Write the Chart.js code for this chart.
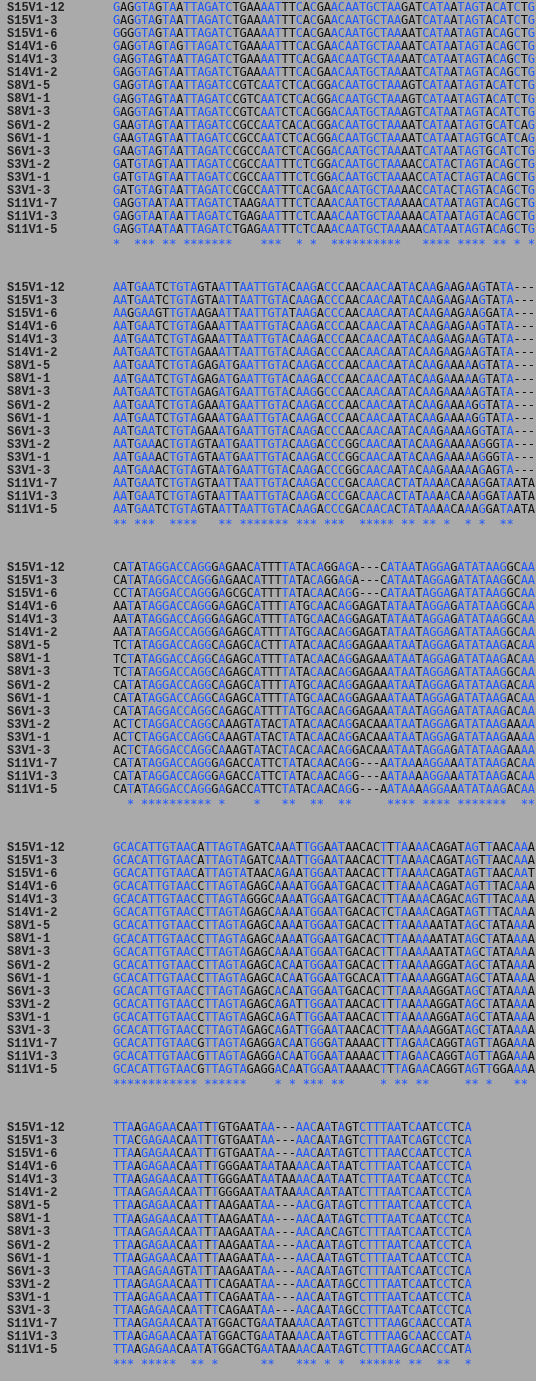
<!DOCTYPE html>
<html><head><meta charset="utf-8">
<script src="https://cdn.jsdelivr.net/npm/chart.js@4"></script>
<style>html,body{margin:0;padding:0;background:#aaaaaa;}#w{width:536px;height:1381px;}</style>
</head><body><div id="w"><canvas id="c"></canvas></div>
<script>
const names = ["S15V1-12","S15V1-3","S15V1-6","S14V1-6","S14V1-3","S14V1-2","S8V1-5","S8V1-1","S8V1-3","S6V1-2","S6V1-1","S6V1-3","S3V1-2","S3V1-1","S3V1-3","S11V1-7","S11V1-3","S11V1-5"];
const block1 = [
"GAGGTAGTAATTAGATCTGAAAATTTCACGAACAATGCTAAGATCATAATAGTACATCTG",
"GAGGTAGTAATTAGATCTGAAAATTTCACGAACAATGCTAAGATCATAATAGTACATCTG",
"GGGGTAGTAATTAGATCTGAAAATTTCACGAACAATGCTAAAATCATAATAGTACAGCTG",
"GAGGTAGTAGTTAGATCTGAAAATTTCACGAACAATGCTAAAATCATAATAGTACAGCTG",
"GAGGTAGTAATTAGATCTGAAAATTTCACGAACAATGCTAAAATCATAATAGTACAGCTG",
"GAGGTAGTAATTAGATCTGAAAATTTCACGAACAATGCTAAAATCATAATAGTACAGCTG",
"GAGGTAGTAATTAGATCCGTCAATCTCACGGACAATGCTAAAGTCATAATAGTACATCTG",
"GAGGTAGTAATTAGATCCGTCAATCTCACGGACAATGCTAAAGTCATAATAGTACATCTG",
"GAGGTAGTAATTAGATCCGTCAATCTCACGGACAATGCTAAAGTCATAATAGTACATCTG",
"GAAGTAGTAATTAGATCCGCCAATCACACGGACAATGCTAAAATCATAATAGTGCATCAG",
"GAAGTAGTAATTAGATCCGCCAATCTCACGGACAATGCTAAAATCATAATAGTGCATCAG",
"GAAGTAGTAATTAGATCCGCCAATCTCACGGACAATGCTAAAATCATAATAGTGCATCTG",
"GATGTAGTAATTAGATCCGCCAATTTCTCGGACAATGCTAAAACCATACTAGTACAGCTG",
"GATGTAGTAATTAGATCCGCCAATTTCTCGGACAATGCTAAAACCATACTAGTACAGCTG",
"GATGTAGTAATTAGATCCGCCAATTTCACGAACAATGCTAAAACCATACTAGTACAGCTG",
"GAGGTAATAATTAGATCTAAGAATTTCTCAAACAATGCTAAAAACATAATAGTACAGCTG",
"GAGGTAATAATTAGATCTGAGAATTTCTCAAACAATGCTAAAAACATAATAGTACAGCTG",
"GAGGTAATAATTAGATCTGAGAATTTCTCAAACAATGCTAAAAACATAATAGTACAGCTG"];
const block2 = [
"AATGAATCTGTAGTAATTAATTGTACAAGACCCAACAACAATACAAGAAGAAGTATA---",
"AATGAATCTGTAGTAATTAATTGTACAAGACCCAACAACAATACAAGAAGAAGTATA---",
"AAGGAAGTTGTAAGAATTAATTGTATAAGACCCAACAACAATACAAGAAGAAGGATA---",
"AATGAATCTGTAGAAATTAATTGTACAAGACCCAACAACAATACAAGAAGAAGTATA---",
"AATGAATCTGTAGAAATTAATTGTACAAGACCCAACAACAATACAAGAAGAAGTATA---",
"AATGAATCTGTAGAAATTAATTGTACAAGACCCAACAACAATACAAGAAGAAGTATA---",
"AATGAATCTGTAGAGATGAATTGTACAAGACCCAACAACAATACAAGAAAAAGTATA---",
"AATGAATCTGTAGAGATGAATTGTACAAGACCCAACAACAATACAAGAAAAAGTATA---",
"AATGAATCTGTAGAGATGAATTGTACAAGGCCCAACAACAATACAAGAAAAAGTATA---",
"AATGAATCTGTAGAAATGAATTGTACAAGACCCAACAACAATACAAGAAAAGGTATA---",
"AATGAATCTGTAGAAATGAATTGTACAAGACCCAACAACAATACAAGAAAAGGTATA---",
"AATGAATCTGTAGAAATGAATTGTACAAGACCCAACAACAATACAAGAAAAGGTATA---",
"AATGAAACTGTAGTAATGAATTGTACAAGACCCGGCAACAATACAAGAAAAAGGGTA---",
"AATGAAACTGTAGTAATGAATTGTACAAGACCCGGCAACAATACAAGAAAAAGGGTA---",
"AATGAAACTGTAGTAATGAATTGTACAAGACCCGGCAACAATACAAGAAAAAGAGTA---",
"AATGAATCTGTAGTAATTAATTGTACAAGACCCGACAACACTATAAAACAAAGGATAATA",
"AATGAATCTGTAGTAATTAATTGTACAAGACCCGACAACACTATAAAACAAAGGATAATA",
"AATGAATCTGTAGTAATTAATTGTACAAGACCCGACAACACTATAAAACAAAGGATAATA"];
const block3 = [
"CATATAGGACCAGGGAGAACATTTTATACAGGAGA---CATAATAGGAGATATAAGGCAA",
"CATATAGGACCAGGGAGAACATTTTATACAGGAGA---CATAATAGGAGATATAAGGCAA",
"CCTATAGGACCAGGGAGCGCATTTTATACAACAGG---CATAATAGGAGATATAAGGCAA",
"AATATAGGACCAGGGAGAGCATTTTATGCAACAGGAGATATAATAGGAGATATAAGGCAA",
"AATATAGGACCAGGGAGAGCATTTTATGCAACAGGAGATATAATAGGAGATATAAGGCAA",
"AATATAGGACCAGGGAGAGCATTTTATGCAACAGGAGATATAATAGGAGATATAAGGCAA",
"TCTATAGGACCAGGCAGAGCACTTTATACAACAGGAGAAATAATAGGAGATATAAGACAA",
"TCTATAGGACCAGGCAGAGCATTTTATACAACAGGAGAAATAATAGGAGATATAAGACAA",
"TCTATAGGACCAGGCAGAGCATTTTATACAACAGGAGAAATAATAGGAGATATAAGGCAA",
"CATATAGGACCAGGCAGAGCATTTTATGCAACAGGAGAAATAATAGGAGATATAAGACAA",
"CATATAGGACCAGGCAGAGCATTTTATGCAACAGGAGAAATAATAGGAGATATAAGACAA",
"CATATAGGACCAGGCAGAGCATTTTATGCAACAGGAGAAATAATAGGAGATATAAGACAA",
"ACTCTAGGACCAGGCAAAGTATACTATACAACAGGACAAATAATAGGAGATATAAGAAAA",
"ACTCTAGGACCAGGCAAAGTATACTATACAACAGGACAAATAATAGGAGATATAAGAAAA",
"ACTCTAGGACCAGGCAAAGTATACTACACAACAGGACAAATAATAGGAGATATAAGAAAA",
"CATATAGGACCAGGGAGACCATTCTATACAACAGG---AATAAAAGGAAATATAAGACAA",
"CATATAGGACCAGGGAGACCATTCTATACAACAGG---AATAAAAGGAAATATAAGACAA",
"CATATAGGACCAGGGAGACCATTCTATACAACAGG---AATAAAAGGAAATATAAGACAA"];
const block4 = [
"GCACATTGTAACATTAGTAGATCAAATTGGAATAACACTTTAAAACAGATAGTTAACAAA",
"GCACATTGTAACATTAGTAGATCAAATTGGAATAACACTTTAAAACAGATAGTTAACAAA",
"GCACATTGTAACATTAGTATAACAGAATGGAATAACACTTTAAAACAGATAGTTAACAAT",
"GCACATTGTAACCTTAGTAGAGCAAAATGGAATGACACTTTAAAACAGATAGTTTACAAA",
"GCACATTGTAACCTTAGTAGGGCAAAATGGAATGACACTTTAAAACAGACAGTTTACAAA",
"GCACATTGTAACCTTAGTAGAGCAAAATGGAATGACACTCTAAAACAGATAGTTTACAAA",
"GCACATTGTAACCTTAGTAGAGCAAAATGGAATGACACTTTAAAAAATATAGCTATAAAA",
"GCACATTGTAACCTTAGTAGAGCAAAATGGAATGACACTTTAAAAAATATAGCTATAAAA",
"GCACATTGTAACCTTAGTAGAGCAAAATGGAATGACACTTTAAAAAATATAGCTATAAAA",
"GCACATTGTAACCTTAGTAGAGCACAATGGAATGACACTTTAAAAAGGATAGCTATAAAA",
"GCACATTGTAACCTTAGTAGAGCACAATGGAATGCACATTTAAAAAGGATAGCTATAAAA",
"GCACATTGTAACCTTAGTAGAGCACAATGGAATGACACTTTAAAAAGGATAGCTATAAAA",
"GCACATTGTAACCTTAGTAGAGCAGATTGGAATAACACTTTAAAAAGGATAGCTATAAAA",
"GCACATTGTAACCTTAGTAGAGCAGATTGGAATAACACTTTAAAAAGGATAGCTATAAAA",
"GCACATTGTAACCTTAGTAGAGCAGATTGGAATAACACTTTAAAAAGGATAGCTATAAAA",
"GCACATTGTAACGTTAGTAGAGGACAATGGGATAAAACTTTAGAACAGGTAGTTAGAAAA",
"GCACATTGTAACGTTAGTAGAGGACAATGGAATAAAACTTTAGAACAGGTAGTTAGAAAA",
"GCACATTGTAACGTTAGTAGAGGACAATGGAATAAAACTTTAGAACAGGTAGTTGGAAAA"];
const block5 = [
"TTAAGAGAACAATTTGTGAATAA---AACAATAGTCTTTAATCAATCCTCA",
"TTACGAGAACAATTTGTGAATAA---AACAATAGTCTTTAATCAGTCCTCA",
"TTAAGAGAACAATTTGTGAATAA---AACAATAGTCTTTAACCAATCCTCA",
"TTAAGAGAACAATTTGGGAATAATAAAACAATAATCTTTAATCAATCCTCA",
"TTAAGAGAACAATTTGGGAATAATAAAACAATAATCTTTAATCAATCCTCA",
"TTAAGAGAACAATTTGGGAATAATAAAACAATAATCTTTAATCAATCCTCA",
"TTAAGAGAACAATTTAAGAATAA---AACGATAGTCTTTAATCAATCCTCA",
"TTAAGAGAACAATTTAAGAATAA---AACAATAGTCTTTAATCAATCCTCA",
"TTAAGAGAACAATTTAAGAATAA---AACAACAGTCTTTAATCAATCCTCA",
"TTAAGAGAACAATTTAAGAATAA---AACAATAGTCTTTAATCAATCCTCA",
"TTAAGAGAACAATTTAAGAATAA---AACAATAGTCTTTAATCAATCCTCA",
"TTAAGAGAAGTATTTAAGAATAA---AACAATAGTCTTTAATCAATCCTCA",
"TTAAGAGAACAATTTCAGAATAA---AACAATAGCCTTTAATCAATCCTCA",
"TTAAGAGAACAATTTCAGAATAA---AACAATAGTCTTTAATCAATCCTCA",
"TTAAGAGAACAATTTCAGAATAA---AACAATAGCCTTTAATCAATCCTCA",
"TTAAGAGAACAATATGGACTGAATAAAACAATAGTCTTTAAGCAACCCATA",
"TTAAGAGAACAATATGGACTGAATAAAACAATAGTCTTTAAGCAACCCATA",
"TTAAGAGAACAATATGGACTGAATAAAACAATAGTCTTTAAGCAACCCATA"];
const blocks = [block1, block2, block3, block4, block5];

function consensus(b){
  let s = "";
  for (let c = 0; c < b[0].length; c++) {
    const ch = b[0][c];
    s += (ch !== "-" && b.every(r => r[c] === ch)) ? "*" : " ";
  }
  return s;
}

const BLUE = "#1f57ff", BLACK = "#0d0d0d";
const alignPlugin = {
  id: "align",
  afterDatasetsDraw(chart) {
    const ctx = chart.ctx, xs = chart.scales.x, ys = chart.scales.y;
    ctx.save();
    ctx.textBaseline = "middle";
    blocks.forEach((b, bi) => {
      const cons = consensus(b);
      const rows = b.length;
      for (let r = 0; r <= rows; r++) {
        const yv = 8 + bi * 280 + r * 13.06;
        const py = ys.getPixelForValue(yv);
        if (r < rows) {
          ctx.font = "bold 12px 'Liberation Mono', monospace";
          ctx.fillStyle = "#222222"; ctx.textAlign = "left";
          ctx.fillText(names[r], xs.getPixelForValue(7), py);
        }
        const line = r < rows ? b[r] : cons;
        ctx.font = "12px 'DejaVu Sans Mono', monospace";
        ctx.textAlign = "center";
        for (let c = 0; c < line.length; c++) {
          if (line[c] === " ") continue;
          ctx.fillStyle = (cons[c] === "*") ? BLUE : BLACK;
          ctx.fillText(line[c], xs.getPixelForValue(113 + 7.03 * c + 3.5), py + (r === rows ? 2 : 0));
        }
      }
    });
    ctx.restore();
  }
};

new Chart(document.getElementById("c"), {
  type: "scatter",
  data: { datasets: [{ data: [], showLine: false }] },
  options: {
    responsive: true, maintainAspectRatio: false, animation: false,
    layout: { padding: 0 },
    plugins: { legend: { display: false }, tooltip: { enabled: false } },
    scales: {
      x: { type: "linear", min: 0, max: 536, display: false },
      y: { type: "linear", min: 0, max: 1381, reverse: true, display: false }
    }
  },
  plugins: [alignPlugin]
});
</script></body></html>
